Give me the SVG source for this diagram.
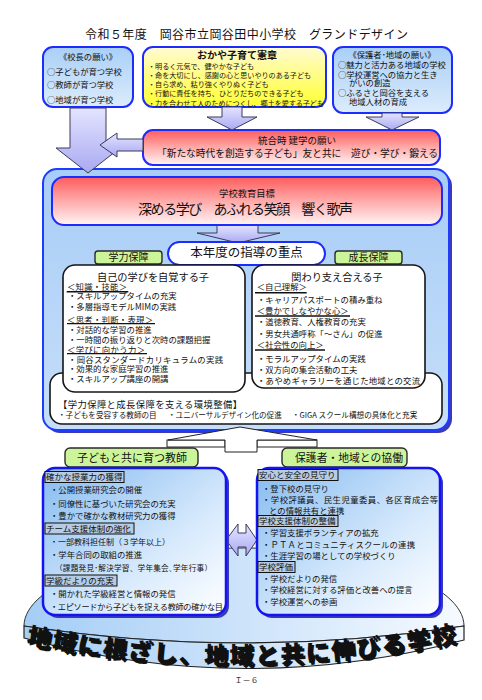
<svg xmlns="http://www.w3.org/2000/svg" width="482" height="700" viewBox="0 0 482 700">
<defs>
<linearGradient id="gBlueBox" x1="0" y1="0" x2="0" y2="1"><stop offset="0" stop-color="#a9cff7"/><stop offset="1" stop-color="#dcecfc"/></linearGradient>
<linearGradient id="gYellow" x1="0" y1="0" x2="0" y2="1"><stop offset="0" stop-color="#fffbd2"/><stop offset="1" stop-color="#ffff30"/></linearGradient>
<linearGradient id="gRed" x1="0" y1="0" x2="0" y2="1"><stop offset="0" stop-color="#ff5c5c"/><stop offset="0.5" stop-color="#ffaaaa"/><stop offset="1" stop-color="#fff4f4"/></linearGradient>
<linearGradient id="gMain" x1="0" y1="0" x2="0" y2="1"><stop offset="0" stop-color="#a8cdf7"/><stop offset="1" stop-color="#c6def9"/></linearGradient>
<linearGradient id="gBottom" x1="0" y1="0" x2="1" y2="1"><stop offset="0" stop-color="#86bbf0"/><stop offset="0.6" stop-color="#d6e9fc"/><stop offset="1" stop-color="#ffffff"/></linearGradient>
<linearGradient id="gDisk" x1="0" y1="0" x2="1" y2="0"><stop offset="0" stop-color="#a4cdf6"/><stop offset="1" stop-color="#f6faff"/></linearGradient>
<linearGradient id="gArrow" x1="0" y1="0" x2="0" y2="1"><stop offset="0" stop-color="#e4e4ff"/><stop offset="1" stop-color="#a9a9f2"/></linearGradient>
<path id="arc" d="M26,644 Q244,686 462,641"/>
<text id="bigtext" class="t" style="font-size:24px;font-weight:900;letter-spacing:1.6px"><textPath href="#arc">地域に根ざし、地域と共に伸びる学校</textPath></text>
</defs>
<style>
.t{font-family:'Noto Sans CJK JP','Noto Sans CJK SC',sans-serif;fill:#111;}
.c{text-anchor:middle;}
.bluebox{fill:url(#gBlueBox);stroke:#1c2cff;stroke-width:2;}
.redbox{fill:url(#gRed);stroke:#1c2cff;stroke-width:2;}
.whitebox{fill:#fff;stroke:#151515;stroke-width:1.6;}
.label{fill:#ccf59a;stroke:#2a2a2a;stroke-width:1.4;}
.btm{fill:url(#gBottom);stroke:#1414ee;stroke-width:2.5;}
.shadow{fill:#3a3ab8;}
.arrow{fill:url(#gArrow);stroke:#3a3a5a;stroke-width:1;}
.warrow{fill:#fff;stroke:#222;stroke-width:1;}
.hd{fill:#b7cbe2;stroke:#111;stroke-width:1;}
.ul{stroke:#111;stroke-width:1.4;}
.f7{font-size:7.1px;}
.f76{font-size:7.6px;}
.f84{font-size:8.3px;}
.f85{font-size:8.4px;}
.f86{font-size:8.5px;}
</style>
<rect width="482" height="700" fill="#fff"/>

<g id="title"><text class="t c" x="246.5" y="39" style="font-size:12px" textLength="323">令和５年度　岡谷市立岡谷田中小学校　グランドデザイン</text></g>

<g id="disk">
<path d="M24,626 C24,585 120,548 244,548 C368,548 464,585 464,626 Q244,660 24,626 Z" fill="url(#gDisk)" stroke="#333" stroke-width="1"/>
<path d="M24,626 L24,638 Q244,698 464,640 L464,626 Q244,660 24,626 Z" fill="url(#gDisk)" stroke="#222" stroke-width="1.2"/>
<use href="#bigtext" transform="translate(2,2)" fill="#8a8a8a"/>
<use href="#bigtext" fill="#000"/>
</g>

<g id="principal">
<rect class="bluebox" x="43" y="47" width="90" height="60" rx="10"/>
<text class="t c f84" x="88" y="60.2">《校長の願い》</text>
<text class="t f84" x="47" y="75">○子どもが育つ学校</text>
<text class="t f84" x="47" y="87.5">○教師が育つ学校</text>
<text class="t f84" x="47" y="102.5">○地域が育つ学校</text>
</g>

<g id="charter">
<rect x="143" y="47" width="183" height="60" rx="10" fill="url(#gYellow)" stroke="#1c2cff" stroke-width="2"/>
<text class="t c" x="237" y="59" style="font-size:10px;font-weight:bold">おかや子育て憲章</text>
<text class="t f7" x="148" y="69.4">・明るく元気で、健やかな子ども</text>
<text class="t f7" x="148" y="77.7">・命を大切にし、感謝の心と思いやりのある子ども</text>
<text class="t f7" x="148" y="87">・自ら求め、粘り強くやりぬく子ども</text>
<text class="t f7" x="148" y="96">・行動に責任を持ち、ひとりだちのできる子ども</text>
<text class="t f7" x="148" y="105.6" textLength="176">・力を合わせて人のためにつくし、郷土を愛する子ども</text>
</g>

<g id="parents">
<rect class="bluebox" x="333" y="47" width="119" height="66" rx="10"/>
<text class="t c f84" x="392" y="58.2">《保護者･地域の願い》</text>
<text class="t f84" x="338" y="68.2">○魅力と活力ある地域の学校</text>
<text class="t f84" x="338" y="77.5">○学校運営への協力と生き</text>
<text class="t f84" x="349" y="85.9">がいの創造</text>
<text class="t f84" x="338" y="95.9">○ふるさと岡谷を支える</text>
<text class="t f84" x="349" y="104.9">地域人材の育成</text>
</g>

<g id="founding">
<rect class="redbox" x="143" y="130" width="297" height="35" rx="10"/>
<text class="t c" x="297" y="143.6" style="font-size:9.5px">統合時 建学の願い</text>
<text class="t" x="157" y="156.7" style="font-size:9.7px" textLength="281">「新たな時代を創造する子ども」友と共に　遊び・学び・鍛える</text>
</g>

<g id="main">
<rect class="shadow" x="46" y="172" width="406" height="261" rx="14"/>
<rect x="43" y="169" width="406" height="261" rx="14" fill="url(#gMain)" stroke="#1c3cff" stroke-width="2"/>
</g>

<g id="connectors">
<polygon class="arrow" points="70,108 106,108 106,148 120,148 88,173 56,148 70,148"/>
<polygon class="arrow" points="100,145 117,133 117,139 143,139 143,151 117,151 117,157"/>
<polygon class="arrow" points="222,107 242,107 242,117 257,117 232,130 207,117 222,117"/>
<polygon class="arrow" points="382,113 402,113 402,117 419,117 392,130 366,117 382,117"/>
<polygon class="arrow" points="217,225 258,225 258,233 280,233 238,243 197,233 217,233"/>
<rect class="warrow" x="167" y="440" width="58" height="7"/>
<rect class="warrow" x="257" y="440" width="60" height="7"/>
<polygon class="warrow" points="240,427 317,440 257,440 257,452 225,452 225,440 168,440"/>
<polygon class="arrow" points="226,540 238,524 238,533 246,533 246,524 257,540 246,556 246,547 238,547 238,556"/>
</g>

<g id="goal">
<rect class="redbox" x="52" y="177" width="390" height="48" rx="12"/>
<text class="t c" x="247" y="196.5" style="font-size:9.3px">学校教育目標</text>
<text class="t c" x="245.5" y="213.6" style="font-size:14px" textLength="215">深める学び　あふれる笑顔　響く歌声</text>
</g>

<g id="focus">
<rect x="168" y="242" width="157" height="23" rx="11.5" fill="#fff" stroke="#1c2cff" stroke-width="2"/>
<text class="t c" x="246.5" y="257.2" style="font-size:12.5px">本年度の指導の重点</text>
</g>

<g id="label-academic">
<rect class="label" x="95" y="251" width="67" height="13" rx="3"/>
<text class="t c" x="128.5" y="261.3" style="font-size:10px">学力保障</text>
</g>
<g id="label-growth">
<rect class="label" x="335" y="251" width="67" height="13" rx="3"/>
<text class="t c" x="368.5" y="261.3" style="font-size:10px">成長保障</text>
</g>

<g id="environment">
<rect class="whitebox" x="50" y="373" width="392" height="51" rx="12"/>
<text class="t" x="58" y="407.5" style="font-size:9.3px" textLength="184">【学力保障と成長保障を支える環境整備】</text>
<text class="t f76" x="58" y="417.8">・子どもを受容する教師の目</text>
<text class="t f76" x="168" y="417.8">・ユニバーサルデザイン化の促進</text>
<text class="t f76" x="292" y="417.8">・GIGA スクール構想の具体化と充実</text>
</g>

<g id="self-aware">
<rect class="whitebox" x="63" y="265" width="182" height="127" rx="12"/>
<text class="t c" x="153" y="280.7" style="font-size:10.2px">自己の学びを自覚する子</text>
<text class="t f85" x="67" y="289.9" textLength="60">＜知識・技能＞</text>
<line class="ul" x1="66.7" y1="291.7" x2="128.3" y2="291.7"/>
<text class="t f85" x="68" y="299.2">・スキルアップタイムの充実</text>
<text class="t f85" x="68" y="309.9">・多層指導モデルMIMの実践</text>
<text class="t f85" x="67" y="322.5" textLength="86">＜思考・判断・表現＞</text>
<line class="ul" x1="67" y1="323.6" x2="155" y2="323.6"/>
<text class="t f85" x="68" y="332.5">・対話的な学習の推進</text>
<text class="t f85" x="68" y="342.5">・一時間の振り返りと次時の課題把握</text>
<text class="t f85" x="67" y="352.5" textLength="78">＜学びに向かう力＞</text>
<line class="ul" x1="67" y1="353.6" x2="147" y2="353.6"/>
<text class="t f85" x="68" y="362.5" textLength="155">・岡谷スタンダードカリキュラムの実践</text>
<text class="t f85" x="68" y="371.5">・効果的な家庭学習の推進</text>
<text class="t f85" x="68" y="381.5">・スキルアップ講座の開講</text>
</g>

<g id="support">
<rect class="whitebox" x="252" y="265" width="173" height="123" rx="12"/>
<text class="t c" x="337" y="280.7" style="font-size:10.2px">関わり支え合える子</text>
<text class="t f85" x="256.7" y="289.9">＜自己理解＞</text>
<line class="ul" x1="255" y1="292.7" x2="306.7" y2="292.7"/>
<text class="t f85" x="257" y="302.5">・キャリアパスポートの積み重ね</text>
<text class="t f85" x="256.7" y="313.9" textLength="92">＜豊かでしなやかな心＞</text>
<line class="ul" x1="255" y1="316" x2="350" y2="316"/>
<text class="t f85" x="257" y="324.9">・道徳教育、人権教育の充実</text>
<text class="t f85" x="257" y="336.5">・男女共通呼称「～さん」の促進</text>
<text class="t f85" x="256.7" y="348.2">＜社会性の向上＞</text>
<line class="ul" x1="255" y1="350" x2="325" y2="350"/>
<text class="t f85" x="257" y="361.5">・モラルアップタイムの実践</text>
<text class="t f85" x="257" y="372.5">・双方向の集会活動の工夫</text>
<text class="t f85" x="257" y="383.9" textLength="163">・あやめギャラリーを通じた地域との交流</text>
</g>

<g id="label-teacher">
<rect class="label" x="65" y="448" width="133" height="19" rx="5"/>
<text class="t c" x="132" y="461.7" style="font-size:11px">子どもと共に育つ教師</text>
</g>
<g id="label-community">
<rect class="label" x="282" y="448" width="125" height="19" rx="5"/>
<text class="t c" x="349" y="461.6" style="font-size:10.8px">保護者・地域との協働</text>
</g>

<g id="teachers">
<rect class="shadow" x="46" y="471" width="183" height="147" rx="12"/>
<rect class="btm" x="43" y="468" width="183" height="147" rx="12"/>
<rect class="hd" x="45" y="471.5" width="79" height="11"/>
<text class="t f86" x="46" y="480">確かな授業力の獲得</text>
<text class="t f85" x="50" y="493.2">・公開授業研究会の開催</text>
<text class="t f85" x="50" y="506.5">・同僚性に基づいた研究会の充実</text>
<text class="t f85" x="50" y="519.2">・豊かで確かな教材研究力の獲得</text>
<rect class="hd" x="45" y="523" width="89" height="11"/>
<text class="t f86" x="46" y="531.5">チーム支援体制の強化</text>
<text class="t" x="50" y="544.8" style="font-size:8px">・一部教科担任制（３学年以上）</text>
<text class="t f85" x="50" y="558.2">・学年合同の取組の推進</text>
<text class="t" x="55" y="571.3" style="font-size:7.6px" textLength="157">（課題発見･解決学習、学年集会､学年行事）</text>
<rect class="hd" x="45" y="575" width="72" height="11"/>
<text class="t f86" x="46" y="583.5">学級だよりの充実</text>
<text class="t f85" x="50" y="597.2">・開かれた学級経営と情報の発信</text>
<text class="t" x="50" y="609.8" style="font-size:8.2px" textLength="173">・エピソードから子どもを捉える教師の確かな目</text>
</g>

<g id="community">
<rect class="shadow" x="260" y="471" width="183" height="147" rx="12"/>
<rect class="btm" x="257" y="468" width="183" height="147" rx="12"/>
<rect class="hd" x="258" y="469.5" width="80" height="11"/>
<text class="t f86" x="259" y="478.2">安心と安全の見守り</text>
<text class="t f85" x="262" y="491.5">・登下校の見守り</text>
<text class="t f85" x="262" y="503.2" textLength="176">・学校評議員、民生児童委員、各区育成会等</text>
<text class="t f85" x="269" y="514.2">との情報共有と連携</text>
<rect class="hd" x="258" y="515.5" width="80" height="11"/>
<text class="t f86" x="259" y="524.2">学校支援体制の整備</text>
<text class="t f85" x="262" y="535.9">・学習支援ボランティアの拡充</text>
<text class="t f85" x="262" y="548.2" textLength="153">・ＰＴＡとコミュニティスクールの連携</text>
<text class="t f85" x="262" y="559.2">・生涯学習の場としての学校づくり</text>
<rect class="hd" x="258" y="561.5" width="37" height="11"/>
<text class="t f86" x="259" y="570.1">学校評価</text>
<text class="t f85" x="262" y="581.5">・学校だよりの発信</text>
<text class="t f85" x="262" y="592.5">・学校経営に対する評価と改善への提言</text>
<text class="t f85" x="262" y="604.9">・学校運営への参画</text>
</g>

<g id="page"><text class="t c" x="246.5" y="683" style="font-size:8px;fill:#333">Ｉ－６</text></g>
</svg>
